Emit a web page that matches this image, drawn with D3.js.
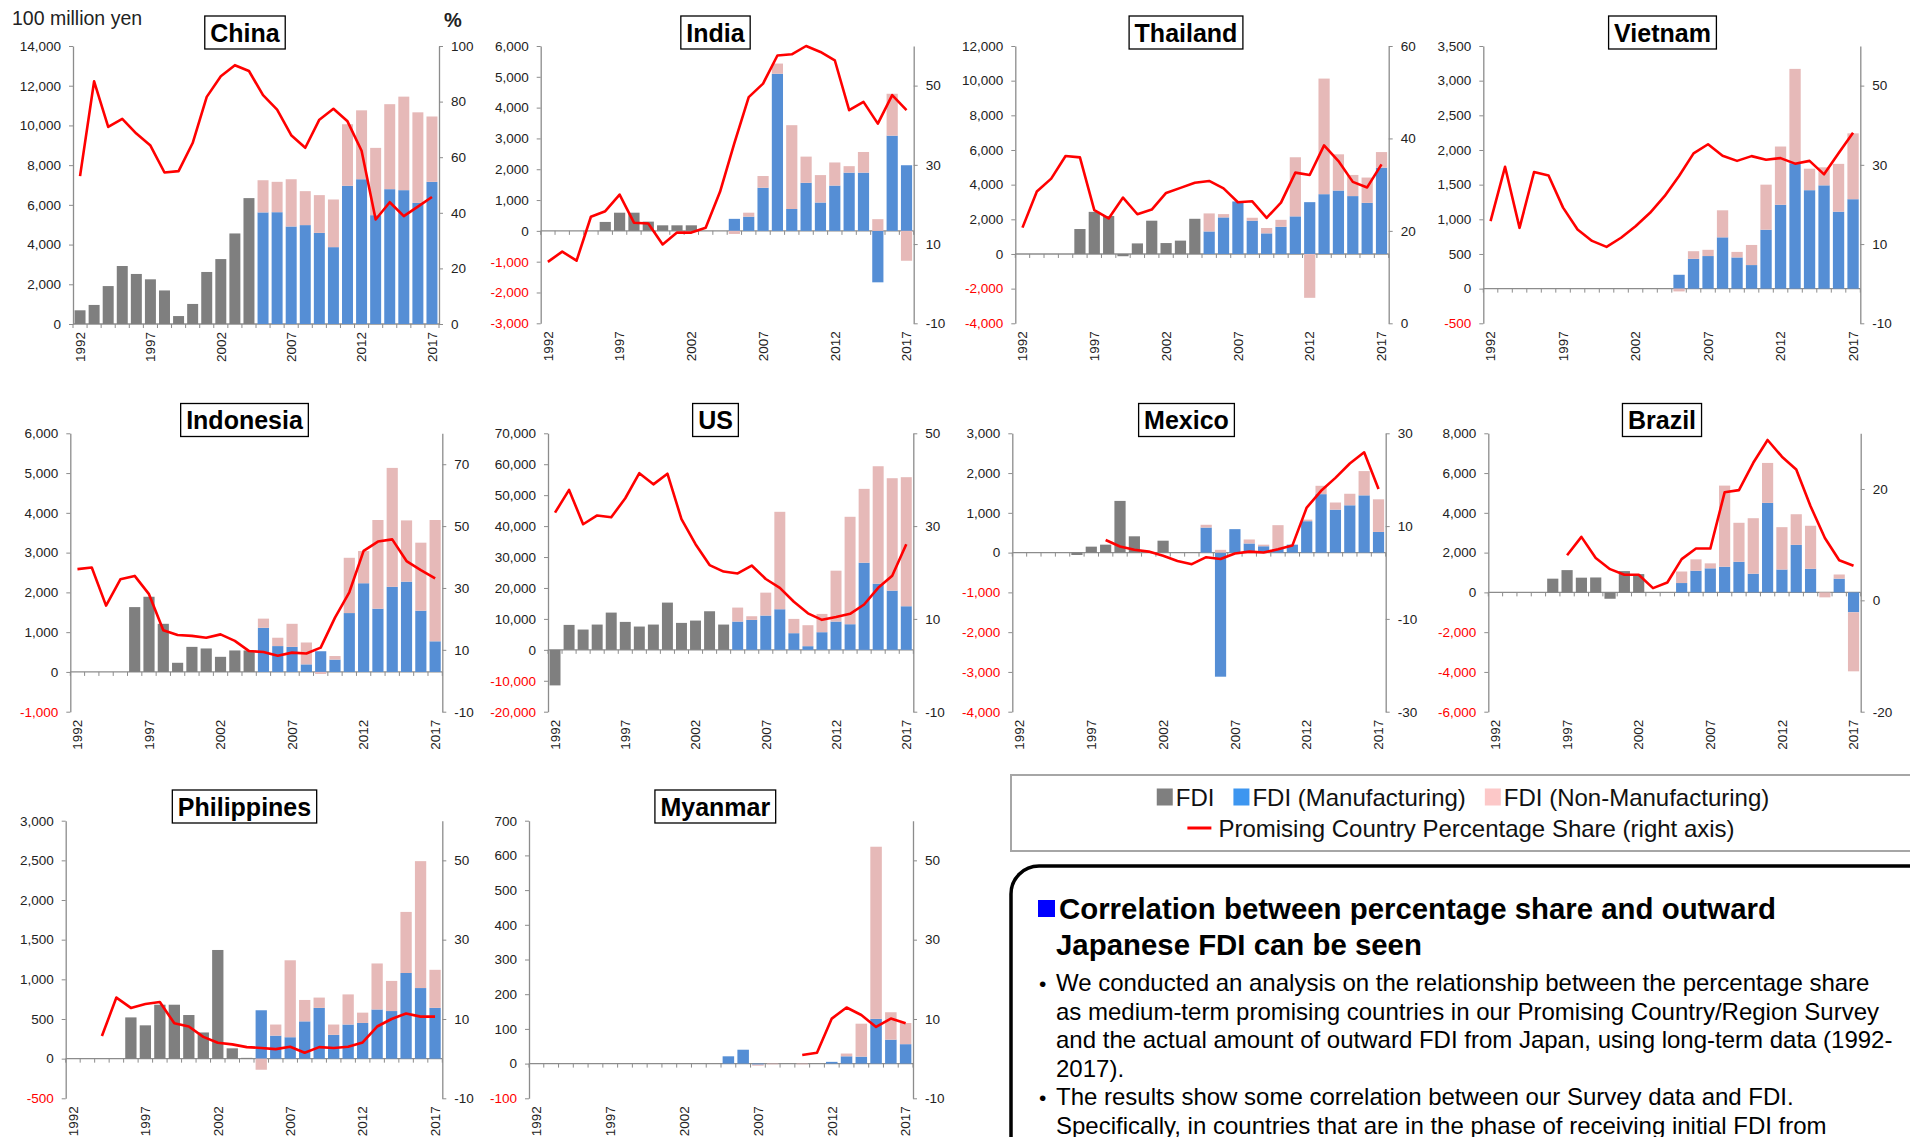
<!DOCTYPE html>
<html>
<head>
<meta charset="utf-8">
<script src="https://cdn.jsdelivr.net/npm/d3@7"></script>
<style>
  body { margin: 0; background: #fff; }
  svg { display: block; font-family: "Liberation Sans", Arial, sans-serif; }
</style>
</head>
<body>
<svg id="chart" width="1910" height="1137"></svg>
<script>
'use strict';

// categories
const years = [1992, 1993, 1994, 1995, 1996, 1997, 1998, 1999, 2000, 2001, 2002, 2003, 2004,
  2005, 2006, 2007, 2008, 2009, 2010, 2011, 2012, 2013, 2014, 2015, 2016, 2017];
const fdiYears = [1992, 1993, 1994, 1995, 1996, 1997, 1998, 1999, 2000, 2001, 2002, 2003, 2004];
const splitYears = [2005, 2006, 2007, 2008, 2009, 2010, 2011, 2012, 2013, 2014, 2015, 2016, 2017];
const labelYears = [1992, 1997, 2002, 2007, 2012, 2017];

// values, 100 million yen (FDI up to 2004, then manufacturing / non-manufacturing) and share in %
const chinaFdi = [690, 960, 1910, 2920, 2520, 2250, 1690, 400, 1010, 2620, 3270, 4560, 6340];
const chinaMfg = [5620, 5630, 4910, 4980, 4590, 3870, 6960, 7290, 5480, 6790, 6740, 6100, 7160];
const chinaNonMfg = [1620, 1530, 2380, 1710, 1900, 2400, 3100, 3470, 3390, 4280, 4710, 4560, 3290];
const chinaShare = [53.2, 87.3, 70.9, 73.8, 68.5, 64.2, 54.5, 55.0, 65.1, 81.7, 89.1, 93.1, 91.0,
  82.3, 77.1, 67.9, 63.4, 73.5, 77.4, 72.9, 62.3, 37.6, 43.8, 38.8, 42.2, 45.7];

const indiaFdi = [0, 0, 0, 0, 290, 590, 590, 300, 180, 180, 180, 0, 0];
const indiaMfg = [390, 460, 1400, 5100, 710, 1560, 920, 1470, 1890, 1890, -1670, 3090, 2130];
const indiaNonMfg = [-100, 130, 380, 330, 2720, 850, 890, 750, 210, 670, 380, 1360, -970];
const indiaShare = [5.5, 8.1, 5.8, 16.9, 18.3, 22.5, 15.4, 15.2, 9.9, 12.9, 12.9, 14.1, 23.2,
  35.5, 47.1, 50.5, 57.6, 57.9, 60.0, 58.5, 56.4, 43.8, 45.9, 40.4, 47.6, 43.8];

const thaiFdi = [0, 0, 0, 0, 1440, 2430, 2190, -130, 610, 1920, 630, 770, 2030];
const thaiMfg = [1300, 2110, 3030, 1920, 1190, 1570, 2170, 2990, 3450, 3660, 3340, 2950, 4980];
const thaiNonMfg = [1040, 190, 0, 170, 310, 400, 3410, -2530, 6670, 2090, 1220, 1460, 900];
const thaiShare = [20.7, 28.5, 31.3, 36.2, 35.9, 24.5, 22.7, 27.2, 23.6, 24.6, 28.2, 29.3, 30.4,
  30.8, 29.2, 26.2, 26.4, 22.8, 26.1, 32.6, 32.1, 38.5, 35.1, 30.6, 29.4, 34.4];

const vietFdi = [0, 0, 0, 0, 0, 0, 0, 0, 0, 0, 0, 0, 0];
const vietMfg = [200, 430, 470, 740, 450, 340, 850, 1210, 1810, 1420, 1490, 1110, 1290];
const vietNonMfg = [-40, 110, 90, 390, 80, 290, 650, 840, 1360, 310, 260, 690, 950];
const vietShare = [15.8, 29.5, 14.1, 28.2, 27.3, 19.2, 13.7, 10.8, 9.3, 11.6, 14.5, 17.9, 22.1,
  27.2, 32.9, 35.2, 32.3, 31.0, 32.2, 31.3, 31.7, 30.3, 31.0, 27.6, 32.9, 38.1];

const indoFdi = [0, 0, 0, 0, 1630, 1890, 1210, 230, 630, 590, 380, 540, 540];
const indoMfg = [1110, 650, 630, 190, 520, 310, 1480, 2230, 1590, 2140, 2270, 1540, 770];
const indoNonMfg = [230, 210, 580, 550, -50, 90, 1390, 810, 2230, 2990, 1540, 1710, 3050];
const indoShare = [36.1, 36.6, 24.3, 32.8, 33.9, 28.0, 16.3, 14.8, 14.5, 13.9, 15.0, 12.9, 9.6,
  9.3, 8.1, 9.1, 8.8, 10.7, 20.4, 28.6, 42.0, 45.0, 45.7, 38.7, 35.8, 33.1];

const usFdi = [-11500, 8060, 6560, 8170, 12040, 9030, 7530, 8170, 15270, 8710, 9460, 12470, 8170];
const usMfg = [9140, 9680, 11080, 13120, 5380, 1180, 5700, 9140, 8280, 28170, 21400, 19140, 14090];
const usNonMfg = [4520, 1180, 7410, 31500, 4620, 6780, 5910, 16450, 34730, 23870, 37950, 36340, 41720];
const usShare = [32.9, 37.8, 30.4, 32.3, 31.9, 36.0, 41.4, 39.0, 41.3, 31.5, 26.1, 21.6, 20.2,
  19.8, 21.5, 18.6, 16.7, 13.7, 11.2, 9.8, 10.4, 11.1, 13.1, 16.7, 19.3, 26.1];

const mexFdi = [0, 0, 0, 0, -60, 150, 200, 1300, 410, 0, 300, 0, 0];
const mexMfg = [630, -3120, 590, 230, 160, 100, 200, 790, 1470, 1080, 1190, 1440, 520];
const mexNonMfg = [70, 70, 0, 100, 40, 590, 0, 40, 210, 180, 290, 610, 820];
const mexShare = [null, null, null, null, null, null, 7.0, 5.6, 4.9, 4.5, 3.6, 2.5, 1.8,
  3.3, 2.9, 4.1, 4.5, 4.3, 5.0, 5.8, 14.0, 17.6, 20.4, 23.5, 25.9, 18.0];

const brazilFdi = [0, 0, 0, 0, 690, 1120, 740, 750, -320, 1070, 920, 0, 0];
const brazilMfg = [470, 1090, 1210, 1290, 1540, 940, 4500, 1150, 2390, 1190, 0, 690, -1000];
const brazilNonMfg = [580, 570, 250, 4080, 1960, 2790, 2010, 2130, 1540, 2160, -250, 210, -2970];
const brazilShare = [null, null, null, null, null, 8.1, 11.4, 7.6, 5.6, 4.6, 4.6, 2.2, 3.2,
  7.4, 9.3, 9.3, 19.4, 19.8, 24.7, 28.8, 25.8, 23.5, 16.9, 11.2, 7.2, 6.2];

const philFdi = [0, 0, 0, 0, 520, 420, 680, 680, 550, 330, 1370, 130, 10];
const philMfg = [610, 290, 270, 470, 640, 300, 430, 450, 620, 600, 1080, 890, 640];
const philNonMfg = [-140, 140, 970, 270, 130, 130, 380, 130, 580, 380, 770, 1600, 480];
const philShare = [null, null, 5.7, 15.4, 12.8, 13.8, 14.3, 8.9, 8.1, 5.5, 4.0, 3.6, 2.9,
  2.7, 2.4, 3.0, 1.5, 2.9, 2.7, 3.0, 4.1, 8.1, 10.0, 11.4, 10.6, 10.6];

const myanFdi = [0, 0, 0, 0, 0, 0, 0, 0, 0, 0, 0, 0, 0];
const myanMfg = [21, 40, -3, 0, 0, 0, 0, 5, 21, 20, 129, 69, 56];
const myanNonMfg = [0, 0, -3, -2, 0, -2, 0, 0, 8, 95, 496, 79, 61];
const myanShare = [null, null, null, null, null, null, null, null, null, null, null, null, null,
  null, null, null, null, null, 0.9, 1.5, 10.1, 12.9, 11.0, 8.0, 10.1, 8.9];

const legendBars = ["FDI", "FDI (Manufacturing)", "FDI (Non-Manufacturing)"];
const legendLine = "Promising Country Percentage Share (right axis)";

const noteTitle = ["Correlation between percentage share and outward", "Japanese FDI can be seen"];
const noteLines = [
  ["•", "We conducted an analysis on the relationship between the percentage share"],
  ["", "as medium-term promising countries in our Promising Country/Region Survey"],
  ["", "and the actual amount of outward FDI from Japan, using long-term data (1992-"],
  ["", "2017)."],
  ["•", "The results show some correlation between our Survey data and FDI."],
  ["", "Specifically, in countries that are in the phase of receiving initial FDI from"]
];

// colours
const COLORS = {
  fdi: "#7f7f7f",
  mfg: "#558ed5",
  non: "#e6b9b8",
  line: "#ff0000",
  axis: "#8c8c8c",
  text: "#222",
  neg: "#ff0000"
};

// panel layout
const panels = [
  { name: "China", fdi: chinaFdi, mfg: chinaMfg, non: chinaNonMfg, share: chinaShare,
    left: 73, right: 439, top: 46, bottom: 324, y: [0, 14000], yStep: 2000, y2: [0, 100], y2Ticks: [0, 20, 40, 60, 80, 100], cx: 245, cy: 32.5 },
  { name: "India", fdi: indiaFdi, mfg: indiaMfg, non: indiaNonMfg, share: indiaShare,
    left: 540.7, right: 913.7, top: 46, bottom: 323.3, y: [-3000, 6000], yStep: 1000, y2: [-10, 60], y2Ticks: [-10, 10, 30, 50], cx: 715.5, cy: 32.5 },
  { name: "Thailand", fdi: thaiFdi, mfg: thaiMfg, non: thaiNonMfg, share: thaiShare,
    left: 1015.3, right: 1388.7, top: 46, bottom: 323.3, y: [-4000, 12000], yStep: 2000, y2: [0, 60], y2Ticks: [0, 20, 40, 60], cx: 1186, cy: 32.5 },
  { name: "Vietnam", fdi: vietFdi, mfg: vietMfg, non: vietNonMfg, share: vietShare,
    left: 1483.3, right: 1860.3, top: 46, bottom: 323.3, y: [-500, 3500], yStep: 500, y2: [-10, 60], y2Ticks: [-10, 10, 30, 50], cx: 1662.5, cy: 32.5 },
  { name: "Indonesia", fdi: indoFdi, mfg: indoMfg, non: indoNonMfg, share: indoShare,
    left: 70.3, right: 442.3, top: 433.3, bottom: 711.7, y: [-1000, 6000], yStep: 1000, y2: [-10, 80], y2Ticks: [-10, 10, 30, 50, 70], cx: 244.5, cy: 420 },
  { name: "US", fdi: usFdi, mfg: usMfg, non: usNonMfg, share: usShare,
    left: 548, right: 913.3, top: 433.3, bottom: 711.7, y: [-20000, 70000], yStep: 10000, y2: [-10, 50], y2Ticks: [-10, 10, 30, 50], cx: 715.5, cy: 420 },
  { name: "Mexico", fdi: mexFdi, mfg: mexMfg, non: mexNonMfg, share: mexShare,
    left: 1012.3, right: 1385.7, top: 433.3, bottom: 711.7, y: [-4000, 3000], yStep: 1000, y2: [-30, 30], y2Ticks: [-30, -10, 10, 30], cx: 1186.5, cy: 420 },
  { name: "Brazil", fdi: brazilFdi, mfg: brazilMfg, non: brazilNonMfg, share: brazilShare,
    left: 1488.3, right: 1860.7, top: 433.3, bottom: 711.7, y: [-6000, 8000], yStep: 2000, y2: [-20, 30], y2Ticks: [-20, 0, 20], cx: 1662, cy: 420 },
  { name: "Philippines", fdi: philFdi, mfg: philMfg, non: philNonMfg, share: philShare,
    left: 65.7, right: 442.3, top: 820.7, bottom: 1098.3, y: [-500, 3000], yStep: 500, y2: [-10, 60], y2Ticks: [-10, 10, 30, 50], cx: 244.5, cy: 806.5 },
  { name: "Myanmar", fdi: myanFdi, mfg: myanMfg, non: myanNonMfg, share: myanShare,
    left: 529, right: 913, top: 820.7, bottom: 1098.3, y: [-100, 700], yStep: 100, y2: [-10, 60], y2Ticks: [-10, 10, 30, 50], cx: 715.3, cy: 806.5 }
];

const svg = d3.select("#chart");
svg.append("rect").attr("width", 1910).attr("height", 1137).attr("fill", "#fff");

// format with a plain hyphen for negatives
const fmtComma = d => (d < 0 ? "-" : "") + d3.format(",")(Math.abs(d));
const fmtPlain = d => (d < 0 ? "-" : "") + Math.abs(d);

function styleAxis(sel) {
  sel.select(".domain").attr("stroke", COLORS.axis).attr("stroke-width", 1.3);
  sel.selectAll(".tick line").attr("stroke", COLORS.axis);
  sel.selectAll("text")
    .attr("font-size", 13.5)
    .attr("font-family", "\"Liberation Sans\", Arial, sans-serif")
    .attr("fill", d => d < 0 ? COLORS.neg : COLORS.text);
}

function drawPanel(p) {
  const g = svg.append("g").attr("class", "panel");

  const x = d3.scaleBand().domain(years).range([p.left, p.right])
    .paddingInner(0.22).paddingOuter(0.11);
  const y = d3.scaleLinear().domain(p.y).range([p.bottom, p.top]);
  const y2 = d3.scaleLinear().domain(p.y2).range([p.bottom, p.top]);
  const step = x.step();
  const edge = yr => x(yr) - step * 0.11;

  // left axis
  const yAxis = d3.axisLeft(y)
    .tickValues(d3.range(p.y[0], p.y[1] + 1, p.yStep))
    .tickSize(4).tickSizeOuter(0).tickPadding(8)
    .tickFormat(fmtComma);
  const gl = g.append("g").attr("transform", `translate(${p.left},0)`).call(yAxis);
  styleAxis(gl);

  // right axis
  const y2Axis = d3.axisRight(y2)
    .tickValues(p.y2Ticks)
    .tickSize(4).tickSizeOuter(0).tickPadding(8)
    .tickFormat(fmtPlain);
  const gr = g.append("g").attr("transform", `translate(${p.right},0)`).call(y2Axis);
  styleAxis(gr);
  gr.selectAll("text").attr("fill", COLORS.text);

  // zero line with category tick marks
  const zy = y(0);
  g.append("line")
    .attr("x1", p.left).attr("x2", p.right)
    .attr("y1", zy).attr("y2", zy)
    .attr("stroke", COLORS.axis).attr("stroke-width", 1.3);
  g.selectAll(".xtick")
    .data(years.concat(["end"]))
    .join("line")
    .attr("class", "xtick")
    .attr("x1", d => d === "end" ? p.right : edge(d))
    .attr("x2", d => d === "end" ? p.right : edge(d))
    .attr("y1", zy).attr("y2", zy + 4)
    .attr("stroke", COLORS.axis).attr("stroke-width", 1);

  // FDI bars (before the split)
  const fdiRows = fdiYears.map((yr, i) => ({ year: yr, v: p.fdi[i] })).filter(d => d.v !== 0);
  g.selectAll(".fdi")
    .data(fdiRows)
    .join("rect")
    .attr("class", "fdi")
    .attr("x", d => x(d.year))
    .attr("width", x.bandwidth())
    .attr("y", d => Math.min(y(d.v), zy))
    .attr("height", d => Math.abs(y(d.v) - zy))
    .attr("fill", COLORS.fdi);

  // manufacturing / non-manufacturing stacks
  const rows = splitYears.map((yr, i) => ({ year: yr, mfg: p.mfg[i], non: p.non[i] }));
  const series = d3.stack().keys(["mfg", "non"]).offset(d3.stackOffsetDiverging)(rows);
  g.selectAll(".series")
    .data(series)
    .join("g")
    .attr("class", "series")
    .attr("fill", s => COLORS[s.key])
    .selectAll("rect")
    .data(s => s.filter(d => d[0] !== d[1]))
    .join("rect")
    .attr("x", d => x(d.data.year))
    .attr("width", x.bandwidth())
    .attr("y", d => y(Math.max(d[0], d[1])))
    .attr("height", d => Math.abs(y(d[0]) - y(d[1])));

  // share line
  const line = d3.line()
    .defined(d => d.v != null)
    .x(d => x(d.year) + x.bandwidth() / 2)
    .y(d => y2(d.v));
  g.append("path")
    .datum(years.map((yr, i) => ({ year: yr, v: p.share[i] })))
    .attr("fill", "none")
    .attr("stroke", COLORS.line)
    .attr("stroke-width", 2.6)
    .attr("stroke-linejoin", "round")
    .attr("d", line);

  // year labels
  g.selectAll(".yr")
    .data(labelYears)
    .join("text")
    .attr("class", "yr")
    .attr("transform", d => `translate(${x(d) + x.bandwidth() / 2},${p.bottom + 8}) rotate(-90)`)
    .attr("text-anchor", "end")
    .attr("dy", "0.35em")
    .attr("font-size", 13.5)
    .attr("fill", COLORS.text)
    .text(d => d);

  // title box
  const tg = g.append("g").attr("class", "title");
  const box = tg.append("rect");
  const t = tg.append("text")
    .attr("x", p.cx).attr("y", p.cy)
    .attr("text-anchor", "middle")
    .attr("dy", "0.36em")
    .attr("font-size", 25)
    .attr("font-weight", "bold")
    .attr("fill", "#000")
    .text(p.name);
  const tw = t.node().getComputedTextLength();
  box.attr("x", p.cx - tw / 2 - 5.5).attr("y", p.cy - 16.5)
    .attr("width", tw + 11).attr("height", 33)
    .attr("fill", "#fff")
    .attr("stroke", "#000").attr("stroke-width", 1.3);
}

panels.forEach(drawPanel);

// unit labels
svg.append("text").attr("x", 12).attr("y", 25)
  .attr("font-size", 19.5).attr("fill", COLORS.text).text("100 million yen");
svg.append("text").attr("x", 444).attr("y", 27)
  .attr("font-size", 20).attr("font-weight", "bold").attr("fill", COLORS.text).text("%");

// legend
const legend = svg.append("g");
legend.append("rect")
  .attr("x", 1011).attr("y", 775).attr("width", 960).attr("height", 76)
  .attr("fill", "#fff").attr("stroke", "#a6a6a6").attr("stroke-width", 2);

const legendColors = ["#7f7f7f", "#3d96f0", "#fcc8c8"];
const row1 = legend.append("g");
let lx = 0;
legendBars.forEach((label, i) => {
  row1.append("rect")
    .attr("x", lx).attr("y", -8.5).attr("width", 16).attr("height", 17)
    .attr("fill", legendColors[i]);
  const tt = row1.append("text")
    .attr("x", lx + 19).attr("y", 0).attr("dy", "0.36em")
    .attr("font-size", 24).attr("fill", "#111").text(label);
  lx += 19 + tt.node().getComputedTextLength() + 19;
});
lx -= 19;
row1.attr("transform", `translate(${1463 - lx / 2},797)`);

const row2 = legend.append("g");
row2.append("line")
  .attr("x1", 0).attr("x2", 24).attr("y1", 0).attr("y2", 0)
  .attr("stroke", COLORS.line).attr("stroke-width", 3);
const lt = row2.append("text")
  .attr("x", 31).attr("y", 0).attr("dy", "0.36em")
  .attr("font-size", 24).attr("fill", "#111").text(legendLine);
const l2w = 31 + lt.node().getComputedTextLength();
row2.attr("transform", `translate(${1461 - l2w / 2},828)`);

// note box
const note = svg.append("g");
note.append("rect")
  .attr("x", 1011).attr("y", 866).attr("width", 960).attr("height", 400)
  .attr("rx", 28).attr("ry", 28)
  .attr("fill", "#fff").attr("stroke", "#000").attr("stroke-width", 3.5);
note.append("rect")
  .attr("x", 1038).attr("y", 900).attr("width", 17).attr("height", 17)
  .attr("fill", "#0000ff");
note.selectAll(".head")
  .data(noteTitle)
  .join("text")
  .attr("class", "head")
  .attr("x", (d, i) => i === 0 ? 1059 : 1056)
  .attr("y", (d, i) => 919 + i * 36)
  .attr("font-size", 29.4).attr("font-weight", "bold").attr("fill", "#000")
  .text(d => d);
note.selectAll(".line")
  .data(noteLines)
  .join("g")
  .attr("class", "line")
  .each(function(d, i) {
    const gg = d3.select(this);
    const yy = 991 + i * 28.5;
    if (d[0]) gg.append("text").attr("x", 1039).attr("y", yy)
      .attr("font-size", 21).attr("fill", "#000").text(d[0]);
    gg.append("text").attr("x", 1056).attr("y", yy)
      .attr("font-size", 24).attr("fill", "#000").text(d[1]);
  });
</script>
</body>
</html>
